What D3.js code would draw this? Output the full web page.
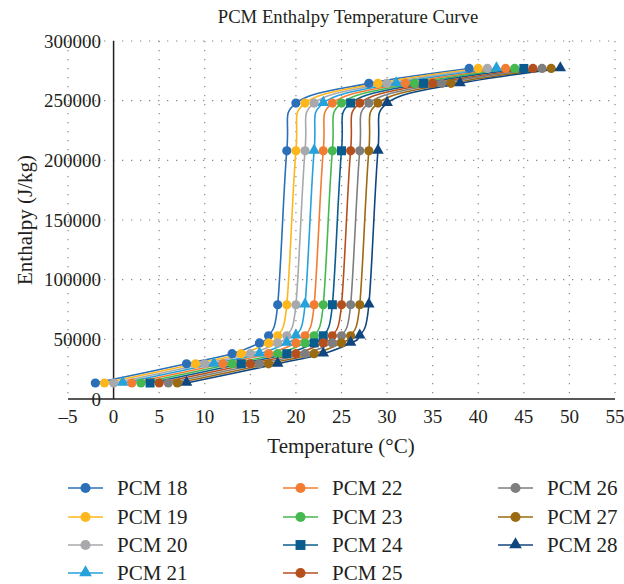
<!DOCTYPE html>
<html>
<head>
<meta charset="utf-8">
<script src="https://cdn.jsdelivr.net/npm/d3@7"></script>
<style>
  body { margin: 0; background: #fff; }
  svg text { font-family: "Liberation Serif", "DejaVu Serif", serif; fill: #231f20; }
</style>
</head>
<body>
<svg id="chart" width="624" height="584"></svg>
<script>
// enthalpy levels (same for all PCMs)
var enthalpy = [13400, 29500, 38000, 47000, 53000, 79000, 208000, 248000, 264500, 277000];

// temperatures per PCM
var t18 = [-2, 8, 13, 16, 17, 18, 19, 20, 28, 39];
var t19 = [-1, 9, 14, 17, 18, 19, 20, 21, 29, 40];
var t20 = [0, 10, 15, 18, 19, 20, 21, 22, 30, 41];
var t21 = [1, 11, 16, 19, 20, 21, 22, 23, 31, 42];
var t22 = [2, 12, 17, 20, 21, 22, 23, 24, 32, 43];
var t23 = [3, 13, 18, 21, 22, 23, 24, 25, 33, 44];
var t24 = [4, 14, 19, 22, 23, 24, 25, 26, 34, 45];
var t25 = [5, 15, 20, 23, 24, 25, 26, 27, 35, 46];
var t26 = [6, 16, 21, 24, 25, 26, 27, 28, 36, 47];
var t27 = [7, 17, 22, 25, 26, 27, 28, 29, 37, 48];
var t28 = [8, 18, 23, 26, 27, 28, 29, 30, 38, 49];

var names = ["PCM 18", "PCM 19", "PCM 20", "PCM 21", "PCM 22", "PCM 23", "PCM 24", "PCM 25", "PCM 26", "PCM 27", "PCM 28"];
var temps = [t18, t19, t20, t21, t22, t23, t24, t25, t26, t27, t28];
var colors = ["#2a6fb7", "#fdb71c", "#a8a9ac", "#25a1db", "#f27d32", "#45b84f", "#0b5c8e", "#b5501c", "#7d7e80", "#9c6a10", "#10467f"];
var shapes = ["circle", "circle", "circle", "triangle", "circle", "circle", "square", "circle", "circle", "circle", "triangle"];

var xTicks = [-5, 0, 5, 10, 15, 20, 25, 30, 35, 40, 45, 50, 55];
var yTicks = [0, 50000, 100000, 150000, 200000, 250000, 300000];

var series = names.map(function(n, i) {
  return { name: n, color: colors[i], shape: shapes[i],
           pts: temps[i].map(function(t, j) { return { t: t, h: enthalpy[j] }; }) };
});

var svg = d3.select("#chart");
var x = d3.scaleLinear().domain([-5, 55]).range([68, 615]);
var y = d3.scaleLinear().domain([0, 300000]).range([399, 41]);

// grid
var grid = svg.append("g").attr("stroke", "#8a8a8a").attr("stroke-width", 1.2)
  .attr("stroke-dasharray", "1.3,7.7");
grid.selectAll(".gx").data(xTicks.filter(function(d) { return d != 0; })).enter().append("line")
  .attr("x1", function(d) { return x(d); }).attr("x2", function(d) { return x(d); })
  .attr("y1", y(300000)).attr("y2", y(0));
grid.selectAll(".gy").data(yTicks.filter(function(d) { return d != 0; })).enter().append("line")
  .attr("y1", function(d) { return y(d); }).attr("y2", function(d) { return y(d); })
  .attr("x1", x(-5)).attr("x2", x(55));

// axes lines
svg.append("line").attr("x1", x(0)).attr("x2", x(0)).attr("y1", y(300000)).attr("y2", y(0))
  .attr("stroke", "#231f20").attr("stroke-width", 1.5);
svg.append("line").attr("x1", x(-5)).attr("x2", x(55)).attr("y1", y(0)).attr("y2", y(0))
  .attr("stroke", "#231f20").attr("stroke-width", 1.5);

// tick labels
var fmtX = function(d) { return d < 0 ? "\u2013" + (-d) : "" + d; };
svg.selectAll(".xt").data(xTicks).enter().append("text")
  .attr("x", function(d) { return x(d); }).attr("y", 423)
  .attr("text-anchor", "middle").attr("font-size", 19).text(fmtX);
svg.selectAll(".yt").data(yTicks).enter().append("text")
  .attr("x", 101).attr("y", function(d) { return y(d) + 6.5; })
  .attr("text-anchor", "end").attr("font-size", 19).text(function(d) { return d; });

// titles
svg.append("text").attr("x", 348).attr("y", 23).attr("text-anchor", "middle")
  .attr("font-size", 18.7).text("PCM Enthalpy Temperature Curve");
svg.append("text").attr("x", 341).attr("y", 453).attr("text-anchor", "middle")
  .attr("font-size", 21).text("Temperature (\u00b0C)");
svg.append("text").attr("transform", "translate(32,220) rotate(-90)").attr("text-anchor", "middle")
  .attr("font-size", 21).text("Enthalpy (J/kg)");

function marker(sel, shape, color, k) {
  if (shape == "circle") {
    sel.append("circle").attr("r", 4.6 * k).attr("fill", color);
  } else if (shape == "square") {
    sel.append("rect").attr("x", -4.5 * k).attr("y", -4.5 * k).attr("width", 9 * k).attr("height", 9 * k).attr("fill", color);
  } else {
    sel.append("path").attr("d", d3.symbol(d3.symbolTriangle, 58 * k * k)()).attr("fill", color)
      .attr("transform", "translate(0,-0.5)");
  }
}

var line = d3.line().x(function(d) { return x(d.t); }).y(function(d) { return y(d.h); })
  .curve(d3.curveCardinal.tension(0));

var g = svg.append("g");
series.forEach(function(s) {
  g.append("path").datum(s.pts).attr("d", line)
    .attr("fill", "none").attr("stroke", s.color).attr("stroke-width", 1.6);
});
series.forEach(function(s) {
  s.pts.forEach(function(p) {
    var m = g.append("g").attr("transform", "translate(" + x(p.t) + "," + y(p.h) + ")");
    marker(m, s.shape, s.color, 1);
  });
});

// legend
var legCols = [68, 283, 498];
var legRows = [488, 517, 545, 573];
series.forEach(function(s, i) {
  var col = Math.floor(i / 4), row = i % 4;
  var lg = svg.append("g").attr("transform", "translate(" + legCols[col] + "," + legRows[row] + ")");
  lg.append("line").attr("x1", 0).attr("x2", 35).attr("stroke", s.color).attr("stroke-width", 1.6);
  var m = lg.append("g").attr("transform", "translate(17.5,0)");
  marker(m, s.shape, s.color, 1.1);
  lg.append("text").attr("x", 49).attr("y", 7).attr("font-size", 21).text(s.name);
});
</script>
</body>
</html>
